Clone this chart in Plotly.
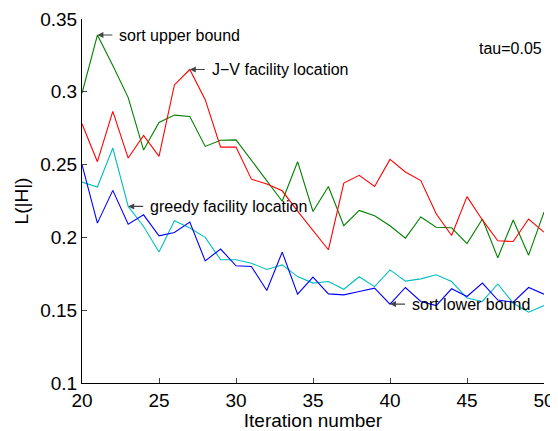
import plotly.graph_objects as go

iterations = list(range(20, 51))

sort_upper = [0.299, 0.339, 0.318, 0.296, 0.260, 0.279, 0.284, 0.283, 0.2625, 0.2667,
              0.267, 0.253, 0.239, 0.2248, 0.252, 0.2178, 0.235, 0.208, 0.2185, 0.2149,
              0.208, 0.1995, 0.214, 0.207, 0.2066, 0.1958, 0.2126, 0.186, 0.212, 0.1878, 0.2174]

jv_facility = [0.278, 0.252, 0.2866, 0.2545, 0.270, 0.2556, 0.3047, 0.3153, 0.2946, 0.262,
               0.262, 0.240, 0.2367, 0.232, 0.218, 0.205, 0.1915, 0.2373, 0.2426, 0.235,
               0.2536, 0.2449, 0.239, 0.2162, 0.2013, 0.228, 0.212, 0.1977, 0.1972, 0.2126, 0.2036]

greedy_facility = [0.238, 0.2346, 0.2614, 0.2213, 0.2075, 0.190, 0.2114, 0.2064, 0.200, 0.1846,
                   0.1846, 0.1823, 0.178, 0.1811, 0.1731, 0.1686, 0.1697, 0.1644, 0.173, 0.1662,
                   0.1777, 0.170, 0.1715, 0.1743, 0.1697, 0.1583, 0.156, 0.168, 0.1548, 0.1486, 0.1532]

sort_lower = [0.250, 0.2098, 0.2323, 0.2091, 0.2155, 0.2011, 0.2034, 0.2105, 0.1839, 0.192,
              0.1805, 0.180, 0.1635, 0.1899, 0.161, 0.1727, 0.1612, 0.1605, 0.1628, 0.1651,
              0.1542, 0.1656, 0.156, 0.1532, 0.1647, 0.1594, 0.1686, 0.157, 0.1555, 0.1656, 0.161]

x_ticks = [20, 25, 30, 35, 40, 45, 50]
y_ticks = [0.1, 0.15, 0.2, 0.25, 0.3, 0.35]
y_tick_labels = ["0.1", "0.15", "0.2", "0.25", "0.3", "0.35"]

series = [
    ("sort upper bound", sort_upper, "#008000"),
    ("J-V facility location", jv_facility, "#ff0000"),
    ("greedy facility location", greedy_facility, "#00bfbf"),
    ("sort lower bound", sort_lower, "#0000ff"),
]

fig = go.Figure()
for name, vals, col in series:
    fig.add_trace(go.Scatter(x=iterations, y=vals, mode="lines", name=name,
                             line=dict(color=col, width=1.1)))

font = "Liberation Sans, Arial, sans-serif"

labels = [
    (21, sort_upper[1], "sort upper bound"),
    (27, jv_facility[7], "J\u2212V facility location"),
    (23, greedy_facility[3], "greedy facility location"),
    (40, sort_lower[20], "sort lower bound"),
]
annotations = []
for xv, yv, txt in labels:
    annotations.append(dict(x=xv, y=yv, xref="x", yref="y", text=txt, showarrow=True,
                            ax=20, ay=0, xanchor="left", yanchor="middle",
                            arrowhead=2, arrowsize=1, arrowwidth=1.2, arrowcolor="#444444",
                            standoff=0, startstandoff=5,
                            font=dict(family=font, size=16, color="#000000")))
annotations.append(dict(x=1.0, y=0.919, xref="paper", yref="paper", text="tau=0.05",
                        showarrow=False, xanchor="right", yanchor="middle",
                        font=dict(family=font, size=16, color="#000000")))

# page body has an 8px default margin, so the figure is sized to fit the window
fig.update_layout(
    width=550, height=423,
    margin=dict(l=74, r=14, t=11, b=48),
    paper_bgcolor="white", plot_bgcolor="white",
    showlegend=False,
    font=dict(family=font, size=19, color="#000000"),
    annotations=annotations,
)
fig.update_xaxes(range=[20, 50], tickvals=x_ticks, ticks="inside", ticklen=5,
                 showline=True, linecolor="#000000", linewidth=1, showgrid=False,
                 zeroline=False, tickfont=dict(size=19), automargin=False,
                 title=dict(text="Iteration number", font=dict(size=19), standoff=0))
fig.update_yaxes(range=[0.1, 0.35], tickvals=y_ticks, ticktext=y_tick_labels,
                 ticks="inside", ticklen=5,
                 showline=True, linecolor="#000000", linewidth=1, showgrid=False,
                 zeroline=False, tickfont=dict(size=19), automargin=False,
                 title=dict(text="L(|H|)", font=dict(size=19), standoff=6))

fig.write_html("out.html")
